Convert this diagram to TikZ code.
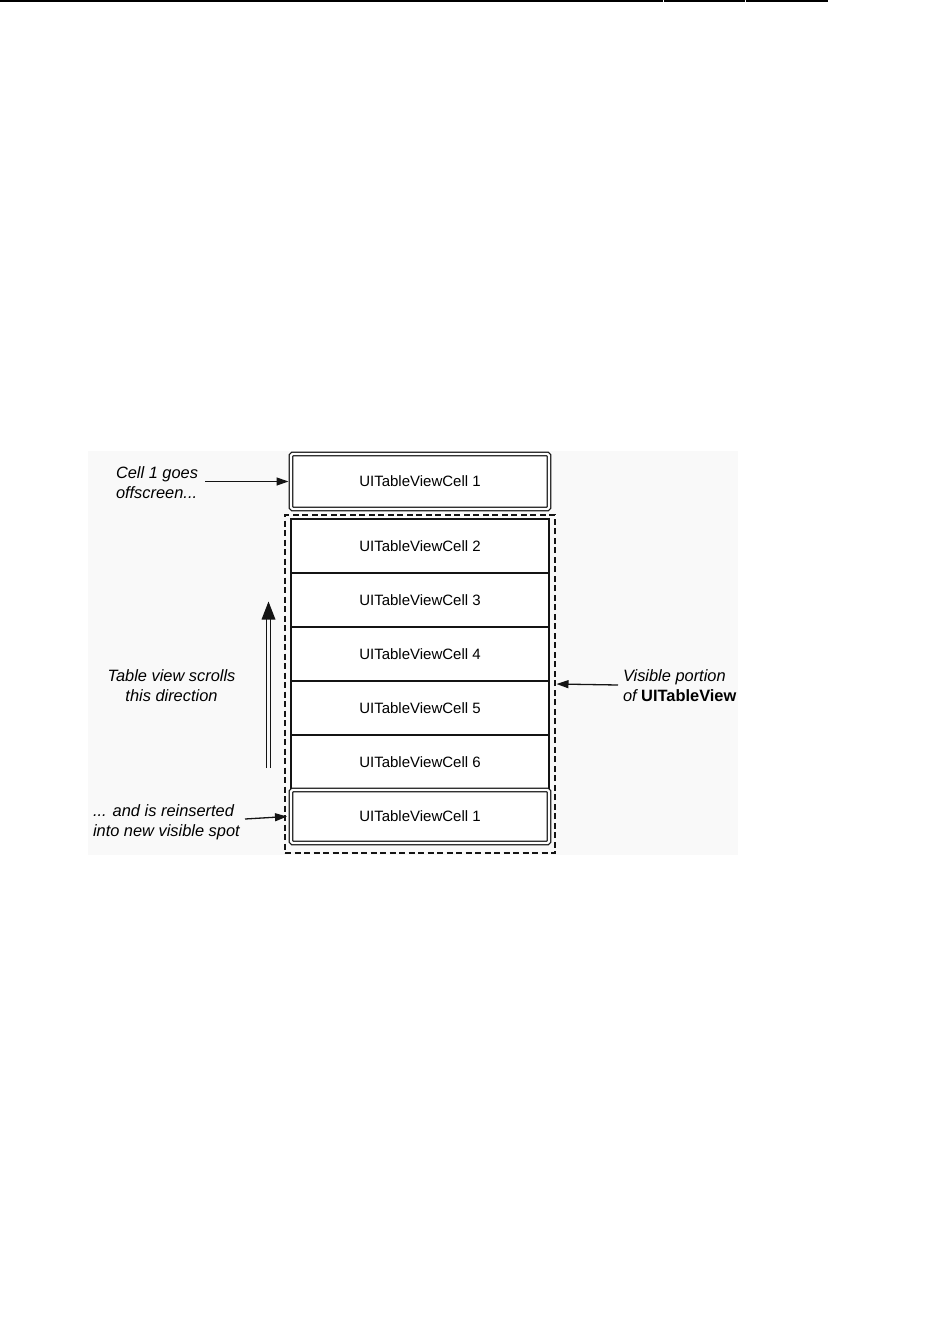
\documentclass[tikz,border=0pt]{standalone}
\usepackage{fontspec}
\setmainfont{Liberation Sans}
\usetikzlibrary{arrows.meta}
\definecolor{bgc}{RGB}{249,249,249}
\definecolor{ink}{RGB}{20,20,20}
\begin{document}
\begin{tikzpicture}[x=1pt,y=-1pt,
  cell/.style={draw=ink, line width=1.2pt, fill=white, minimum width=258pt, minimum height=54pt,
    inner sep=0pt, outer sep=0pt, font=\fontsize{15}{18}\selectfont},
  dcell/.style={cell, double, double distance=2.4pt, line width=1.25pt, rounded corners=1.5pt},
  lab/.style={font=\fontsize{16.4}{20}\selectfont\itshape, inner sep=0pt, outer sep=0pt},
  arr/.style={draw=ink, line width=1.3pt, -{Triangle[length=12pt,width=8pt]}}]
\useasboundingbox (0,0) rectangle (935,1339);
% top rule
\draw[line width=2pt] (0,1) -- (662.5,1) (663.5,1) -- (744.5,1) (745.5,1) -- (828,1);
% background
\fill[bgc] (88,451) rectangle (738,855);
% visible portion
\node[draw=ink, dash pattern=on 6pt off 3.5pt, line width=1.3pt, minimum width=270pt, minimum height=338pt,
  inner sep=0pt, outer sep=0pt] (vis) at (420,684) {};
% cells
\node[dcell, minimum height=55pt] (top) at (420,481.5) {UITableViewCell 1};
\node[cell] (c2) at (420,546) {UITableViewCell 2};
\node[cell] (c3) at (420,600) {UITableViewCell 3};
\node[cell] (c4) at (420,654) {UITableViewCell 4};
\node[cell] (c5) at (420,708) {UITableViewCell 5};
\node[cell] (c6) at (420,762) {UITableViewCell 6};
\node[dcell, minimum height=53pt] (bot) at (420,816.5) {UITableViewCell 1};
% labels
\node[lab, anchor=west, align=left] (l1) at (116,482.6) {Cell 1 goes\\offscreen...};
\node[lab, align=center] (l2) at (171.5,686) {Table view scrolls\\this direction};
\node[lab, anchor=west, align=left] (l3) at (623,686) {Visible portion\\of \textbf{\upshape UITableView}};
\node[lab, anchor=west, align=left] (l4) at (93,822.7) {... and is reinserted\\into new visible spot};
% arrows
\coordinate (a1) at (205,481.5);
\draw[arr] (a1) -- ([xshift=-2.5pt]top.west);
\coordinate (a2) at (618,685);
\draw[arr] (a2) -- ([xshift=1.5pt]vis.east);
\coordinate (a3) at (245,819);
\draw[arr] (a3) -- ([xshift=-4pt]bot.west);
% scroll direction arrow
\coordinate (s0) at (268.5,768);
\coordinate (s1) at (268.5,601.5);
\draw[ink, line width=1.4pt] (266.7,768) -- (266.7,617) (270.4,768) -- (270.4,617);
\fill[ink] (s1) -- (275.5,619.5) -- (261.5,619.5) -- cycle;
\end{tikzpicture}
\end{document}
